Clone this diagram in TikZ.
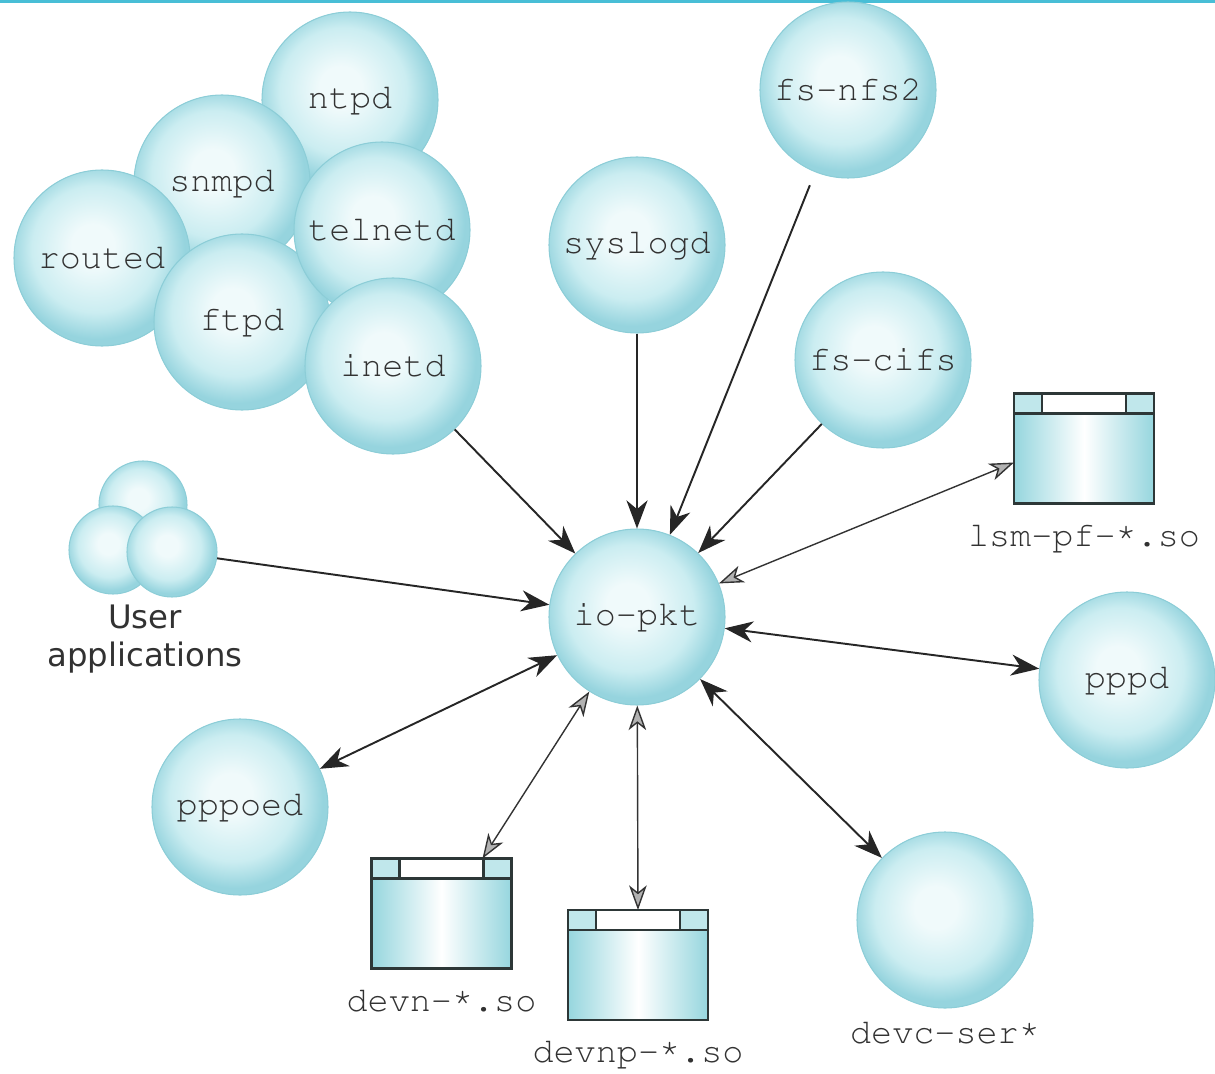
\documentclass[tikz,border=0pt]{standalone}
\usepackage[T1,TU]{fontenc}
\usepackage{fontspec}
\newfontfamily\appfont{DejaVu Sans}
\newcommand\courierfont{\fontencoding{T1}\fontfamily{pcr}\fontseries{m}\fontshape{n}\selectfont}
\newcommand\upstar{\raisebox{0.35ex}{*}}
\usetikzlibrary{arrows.meta,positioning}

\definecolor{bubblelight}{RGB}{240,250,251}
\definecolor{bubblemid}{RGB}{203,237,241}
\definecolor{bubbleedge}{RGB}{150,212,222}
\definecolor{bubblerim}{RGB}{140,205,215}
\definecolor{boxcyan}{RGB}{150,214,222}
\definecolor{boxline}{RGB}{45,55,55}
\definecolor{labelgray}{RGB}{50,50,50}
\definecolor{topcyan}{RGB}{72,190,214}

\pgfdeclareradialshading{bubble}{\pgfpoint{-3bp}{4bp}}{color(0bp)=(bubblelight); color(6bp)=(bubblelight); color(18bp)=(bubblemid); color(25bp)=(bubbleedge); color(50bp)=(bubbleedge)}

\tikzset{
  ball/.style={circle, shading=bubble, draw=bubblerim, line width=0.3pt, minimum size=1.76cm, inner sep=0pt,
    font=\courierfont\fontsize{10}{12}\selectfont, text=labelgray},
  smallball/.style={ball, minimum size=0.88cm},
  sobox/.style={rectangle, draw=boxline, line width=0.6pt, outer sep=0pt, minimum width=1.4cm, minimum height=1.1cm,
    left color=boxcyan, right color=boxcyan, middle color=white,
    path picture={
      \fill[boxcyan!60] (path picture bounding box.north west) rectangle ([shift={(0.28,-0.2)}]path picture bounding box.north west);
      \fill[boxcyan!60] (path picture bounding box.north east) rectangle ([shift={(-0.28,-0.2)}]path picture bounding box.north east);
      \fill[white] ([xshift=0.28cm]path picture bounding box.north west) rectangle ([shift={(-0.28,-0.2)}]path picture bounding box.north east);
      \draw[boxline, line width=0.6pt] ([yshift=-0.2cm]path picture bounding box.north west) -- ([yshift=-0.2cm]path picture bounding box.north east)
        ([xshift=0.28cm]path picture bounding box.north west) -- ++(0,-0.2)
        ([xshift=-0.28cm]path picture bounding box.north east) -- ++(0,-0.2);
    }},
  solabel/.style={font=\courierfont\fontsize{10}{12}\selectfont, text=labelgray},
  onearrow/.style={draw=black!85, line width=0.55pt, -{Stealth[length=8pt,width=6pt,inset=2.5pt]}},
  twoarrow/.style={onearrow, {Stealth[length=8pt,width=6pt,inset=2.5pt]}-{Stealth[length=8pt,width=6pt,inset=2.5pt]}},
  thinarrow/.style={draw=black!80, line width=0.4pt,
    {Stealth[length=7pt,width=5pt,inset=2pt,fill=gray!60]}-{Stealth[length=7pt,width=5pt,inset=2pt,fill=gray!60]}}
}

\begin{document}
\begin{tikzpicture}
  \useasboundingbox (0,0) rectangle (12.15,-10.74);
  \fill[topcyan] (0,0) rectangle (12.15,-0.03);

  \node[ball] (ntpd)    at (3.50,-1.00) {ntpd};
  \node[ball] (snmpd)   at (2.22,-1.83) {snmpd};
  \node[ball] (routed)  at (1.02,-2.58) {routed};
  \node[ball] (ftpd)    at (2.42,-3.22) {ftpd};
  \node[ball] (telnetd) at (3.82,-2.30) {telnetd};
  \node[ball] (inetd)   at (3.93,-3.66) {inetd};

  \node[ball] (syslogd) at (6.37,-2.45) {syslogd};
  \node[ball] (fsnfs)   at (8.48,-0.90) {fs-nfs2};
  \node[ball] (fscifs)  at (8.83,-3.60) {fs-cifs};
  \node[ball] (iopkt)   at (6.37,-6.17) {io-pkt};
  \node[ball] (pppd)    at (11.27,-6.80) {pppd};
  \node[ball] (pppoed)  at (2.40,-8.07) {pppoed};
  \node[ball] (devc)    at (9.45,-9.20) {};
  \node[solabel, below=0cm of devc] (devclbl) {devc-ser\upstar};

  \node[smallball] (ua1) at (1.43,-5.05) {};
  \node[smallball] (ua2) at (1.13,-5.50) {};
  \node[smallball, minimum size=0.90cm] (ua3) at (1.72,-5.52) {};
  \node[align=center, text=labelgray, font=\appfont\fontsize{9.2}{10.8}\selectfont] (ualbl) at (1.45,-6.39) {User\\applications};

  \node[sobox] (lsm)   at (10.84,-4.485) {};
  \node[sobox] (devn)  at (4.415,-9.135) {};
  \node[sobox] (devnp) at (6.38,-9.65) {};
  \node[solabel, below=0.08cm of lsm]   (lsmlbl)   {lsm-pf-\upstar.so};
  \node[solabel, below=0.08cm of devn]  (devnlbl)  {devn-\upstar.so};
  \node[solabel, below=0.08cm of devnp] (devnplbl) {devnp-\upstar.so};

  \draw[onearrow] (inetd) -- (iopkt);
  \draw[onearrow] (syslogd) -- (iopkt);
  \draw[onearrow, shorten <=4pt] (fsnfs) -- (iopkt);
  \draw[onearrow] (fscifs) -- (iopkt);
  \draw[onearrow] (ua3) -- (iopkt);
  \draw[twoarrow] (iopkt) -- (pppd);
  \draw[twoarrow] (iopkt) -- (pppoed);
  \draw[twoarrow] (iopkt) -- (devc);
  \draw[thinarrow] (iopkt) -- ([yshift=-0.14cm]lsm.west);
  \draw[thinarrow] (iopkt) -- ([xshift=0.41cm]devn.north);
  \draw[thinarrow] (iopkt) -- (devnp.north);
\end{tikzpicture}
\end{document}
